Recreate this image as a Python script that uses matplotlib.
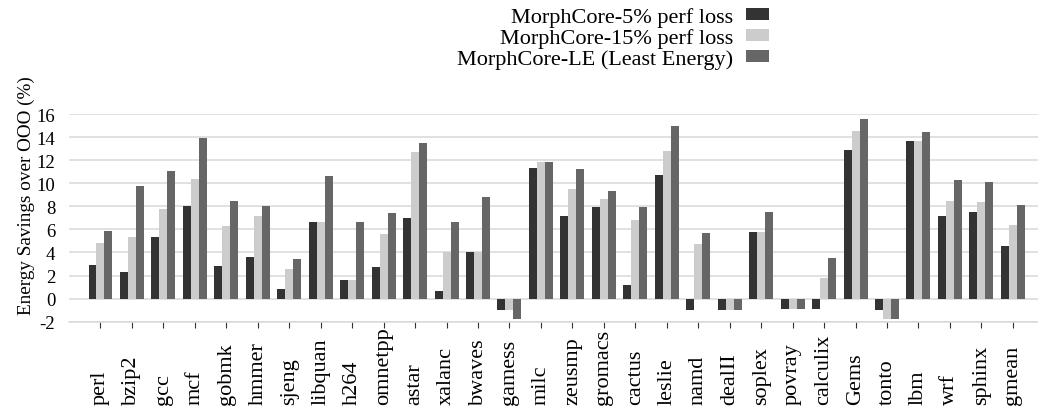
import matplotlib
matplotlib.use("Agg")
import matplotlib.pyplot as plt
import matplotlib.transforms as mtransforms
import numpy as np

plt.rcParams['font.family'] = ['Liberation Serif', 'DejaVu Serif']

benchmarks = ["perl", "bzip2", "gcc", "mcf", "gobmk", "hmmer", "sjeng", "libquan",
              "h264", "omnetpp", "astar", "xalanc", "bwaves", "gamess", "milc",
              "zeusmp", "gromacs", "cactus", "leslie", "namd", "dealII", "soplex",
              "povray", "calculix", "Gems", "tonto", "lbm", "wrf", "sphinx", "gmean"]

loss5 = [2.9, 2.3, 5.3, 8.0, 2.8, 3.6, 0.8, 6.6, 1.6, 2.7, 7.0, 0.7, 4.0, -1.0, 11.3,
         7.2, 7.9, 1.2, 10.7, -1.0, -1.0, 5.8, -0.9, -0.9, 12.9, -1.0, 13.7, 7.2, 7.5, 4.6]
loss15 = [4.8, 5.3, 7.8, 10.4, 6.3, 7.2, 2.6, 6.6, 1.6, 5.6, 12.7, 4.0, 4.0, -1.0, 11.8,
          9.5, 8.6, 6.8, 12.8, 4.7, -1.0, 5.8, -0.9, 1.8, 14.5, -1.8, 13.7, 8.5, 8.4, 6.4]
least_energy = [5.9, 9.8, 11.1, 13.9, 8.5, 8.0, 3.4, 10.6, 6.6, 7.4, 13.5, 6.6, 8.8, -1.8, 11.8,
                11.2, 9.3, 7.9, 15.0, 5.7, -1.0, 7.5, -0.9, 3.5, 15.6, -1.8, 14.4, 10.3, 10.1, 8.1]

series_labels = ["MorphCore-5% perf loss", "MorphCore-15% perf loss",
                 "MorphCore-LE (Least Energy)"]
series_colors = ["#333333", "#cccccc", "#666666"]
yticks = [-2, 0, 2, 4, 6, 8, 10, 12, 14, 16]

fig = plt.figure(figsize=(10.38, 4.10), dpi=100)
ax = fig.add_axes([0.0665, 0.213, 0.9335, 0.5065])

x = np.arange(len(benchmarks))
w = 0.254
for i, (vals, lab, col) in enumerate(zip([loss5, loss15, least_energy],
                                         series_labels, series_colors)):
    ax.bar(x + (i - 1) * w, vals, width=w, color=col, label=lab, zorder=3)

ax.set_ylim(-2, 16)
ax.set_xlim(-1.0, 29.8)
ax.set_yticks(yticks)
ax.set_yticklabels([str(t) for t in yticks], fontsize=13.5)
ax.yaxis.grid(True, color="#d9d9d9", linewidth=1.1, zorder=0)
ax.set_axisbelow(True)
for side in ["top", "right", "left"]:
    ax.spines[side].set_visible(False)
ax.spines["bottom"].set_color("#d9d9d9")
ax.spines["bottom"].set_linewidth(1.1)
ax.tick_params(axis="y", length=0, pad=10)
ax.tick_params(axis="x", length=4, width=0.8, color="#333333")
ax.set_xticks(x)
ax.set_xticklabels([])

# benchmark names, bottom-aligned along the lower edge of the figure
trans = mtransforms.blended_transform_factory(ax.transData, fig.transFigure)
for xi, name in zip(x, benchmarks):
    ax.text(xi, 0.012, name, transform=trans, rotation=90, ha="center",
            va="bottom", fontsize=16)

ax.set_ylabel("Energy Savings over OOO (%)", fontsize=13.8)
ax.yaxis.set_label_coords(-0.035, 0.61)

leg = fig.legend(loc="upper right", bbox_to_anchor=(0.744, 0.988), frameon=False,
                 markerfirst=False, fontsize=16, handlelength=1.05,
                 handleheight=0.45, handletextpad=0.55, labelspacing=0.05,
                 borderaxespad=0.0, borderpad=0.15)
for t in leg.get_texts():
    t.set_ha("right")

fig.savefig("out.png", dpi=100)
